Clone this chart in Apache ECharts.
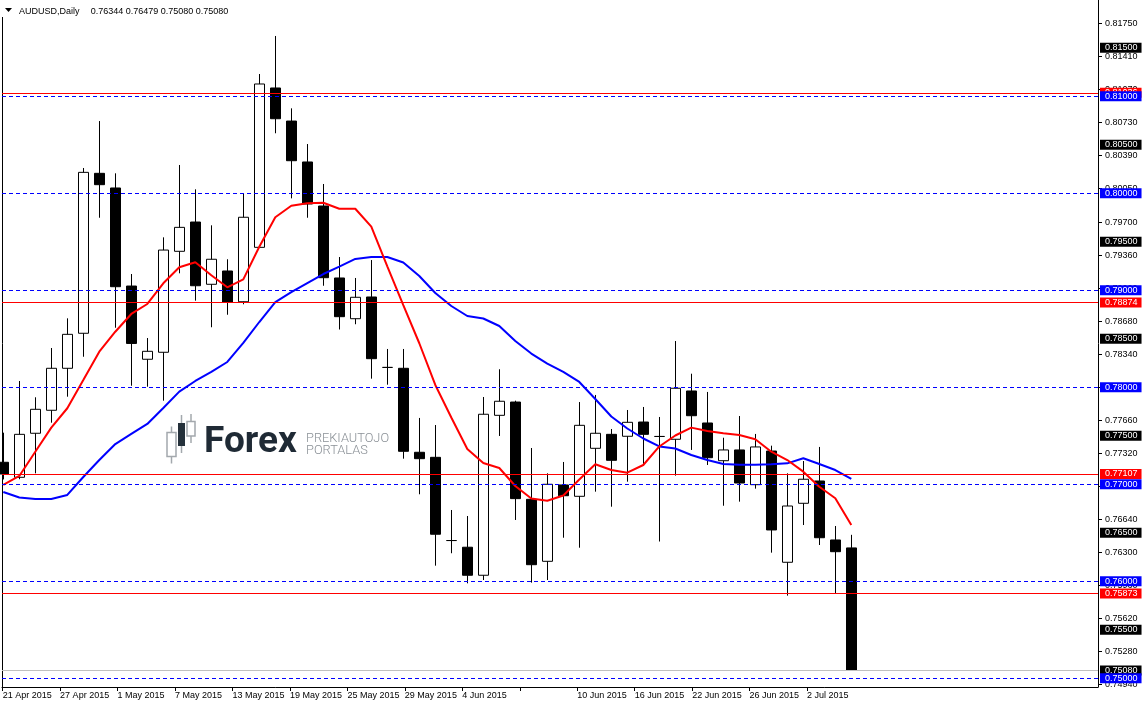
<!DOCTYPE html>
<html><head><meta charset="utf-8">
<script src="https://cdn.jsdelivr.net/npm/echarts@6/dist/echarts.min.js"></script>
<style>html,body{margin:0;padding:0;background:#fff}#c{width:1142px;height:705px}</style>
</head><body><div id="c"></div>
<script>
// ---- data ----
const symbolName = 'AUDUSD';
const timeframe = 'Daily';
const open  = [0.77227,0.77072,0.77526,0.77763,0.78196,0.78557,0.80206,0.80055,0.79044,0.78289,
               0.78361,0.79402,0.79704,0.79062,0.79199,0.78882,0.79443,0.81086,0.80745,0.80323,
               0.79869,0.79127,0.78707,0.78931,0.78205,0.78196,0.77330,0.77278,0.76420,0.76351,
               0.76062,0.77711,0.77848,0.76845,0.76206,0.76993,0.76876,0.77371,0.77515,0.77495,
               0.77642,0.77493,0.77464,0.77962,0.77632,0.77243,0.77354,0.76996,0.77343,0.76196,
               0.76804,0.77034,0.76426,0.76344];
const close = [0.77106,0.77515,0.77773,0.78196,0.78546,0.80216,0.80089,0.79037,0.78452,0.78371,
               0.79415,0.79649,0.79047,0.79320,0.78879,0.79753,0.81127,0.80769,0.80336,0.79890,
               0.79130,0.78728,0.78928,0.78295,0.78205,0.77340,0.77264,0.76485,0.76420,0.76062,
               0.77722,0.77856,0.76852,0.76171,0.77000,0.76882,0.77608,0.77526,0.77247,0.77639,
               0.77515,0.77493,0.77990,0.77707,0.77274,0.77354,0.77013,0.77385,0.76529,0.76776,
               0.77052,0.76449,0.76305,0.75080];
const low   = [0.77050,0.77052,0.77113,0.77635,0.77903,0.78315,0.79748,0.78614,0.78016,0.78006,
               0.77862,0.79175,0.78893,0.78619,0.78748,0.78856,0.79443,0.80619,0.79948,0.79748,
               0.79047,0.78596,0.78650,0.78089,0.78027,0.77264,0.76897,0.76161,0.76289,0.75979,
               0.76013,0.77498,0.76632,0.75986,0.76013,0.76449,0.76346,0.76924,0.76769,0.77027,
               0.77192,0.76410,0.77089,0.77354,0.77199,0.76779,0.76821,0.76955,0.76295,0.75852,
               0.76580,0.76374,0.75876,0.75080];
const high  = [0.77532,0.78065,0.77897,0.78405,0.78711,0.80261,0.80745,0.80206,0.79168,0.78508,
               0.79546,0.80292,0.80041,0.79670,0.79320,0.80000,0.81230,0.81622,0.80876,0.80508,
               0.80096,0.79343,0.79127,0.79312,0.78395,0.78395,0.77684,0.77611,0.76735,0.76673,
               0.77900,0.78186,0.77862,0.77374,0.77113,0.77230,0.77848,0.77921,0.77570,0.77766,
               0.77797,0.77694,0.78477,0.78140,0.77952,0.77480,0.77704,0.77519,0.77398,0.77113,
               0.77240,0.77385,0.76570,0.76479];
const maFast = [0.76993,0.77086,0.77336,0.77584,0.77784,0.78075,0.78367,0.78573,0.78756,0.78859,
                0.79072,0.79237,0.79289,0.79155,0.79031,0.79113,0.79449,0.79753,0.79872,0.79897,
                0.79903,0.79841,0.79841,0.79656,0.79247,0.78848,0.78454,0.78024,0.77689,0.77364,
                0.77220,0.77168,0.76982,0.76854,0.76831,0.76885,0.77050,0.77206,0.77147,0.77120,
                0.77199,0.77390,0.77503,0.77584,0.77550,0.77526,0.77508,0.77464,0.77336,0.77250,
                0.77130,0.76975,0.76856,0.76580];
const maSlow = [0.76921,0.76864,0.76848,0.76848,0.76890,0.77075,0.77250,0.77415,0.77519,0.77622,
                0.77787,0.77955,0.78065,0.78158,0.78261,0.78457,0.78673,0.78879,0.78982,0.79075,
                0.79168,0.79245,0.79323,0.79343,0.79343,0.79287,0.79147,0.78972,0.78838,0.78735,
                0.78709,0.78632,0.78477,0.78348,0.78245,0.78158,0.78055,0.77879,0.77699,0.77575,
                0.77472,0.77390,0.77369,0.77302,0.77250,0.77209,0.77202,0.77202,0.77206,0.77216,
                0.77268,0.77209,0.77147,0.77055];
const priceTicks = [0.8175,0.8141,0.8107,0.8073,0.8039,0.8005,0.7970,0.7936,0.7902,0.7868,0.7834,
                    0.7800,0.7766,0.7732,0.7698,0.7664,0.7630,0.7596,0.7562,0.7528,0.7494];
const dateLabels = ['21 Apr 2015','27 Apr 2015','1 May 2015','7 May 2015','13 May 2015','19 May 2015',
                    '25 May 2015','29 May 2015','4 Jun 2015','','10 Jun 2015','16 Jun 2015',
                    '22 Jun 2015','26 Jun 2015','2 Jul 2015'];
const roundLevels = [0.81,0.80,0.79,0.78,0.77,0.76,0.75];       // blue dashed
const halfLevels  = [0.815,0.805,0.795,0.785,0.775,0.765,0.755]; // black tags
const redLevels   = [0.81036,0.78874,0.77107,0.75873];          // red solid

// ---- layout ----
const FONT = 'Liberation Sans';
const N = open.length;
const X_MIN = -0.081, X_MAX = 68.419;
const Y_MIN = 0.7491, Y_MAX = 0.81993;
const tickStart = -0.04, tickStep = 3.591;
const dateTickPos = dateLabels.map((_, k) => +(tickStart + k * tickStep).toFixed(4));
const last = N - 1;

const candleData = open.map((o, i) => [i, o, close[i], low[i], high[i]]);
const tagLabel = (bg) => ({
  show: true, position: 'end', distance: 2, color: '#fff', backgroundColor: bg,
  fontFamily: FONT, fontSize: 9, lineHeight: 9, padding: [1, 4, 0, 5],
  formatter: p => Number(p.value).toFixed(5)
});
const markData = [];
halfLevels.forEach(v => markData.push({yAxis: v, lineStyle: {width: 0, color: 'rgba(0,0,0,0)'}, label: tagLabel('#000')}));
markData.push({yAxis: close[last], lineStyle: {width: 1, color: '#c0c0c0', type: 'solid'}, label: tagLabel('#000')});
redLevels.forEach(v => markData.push({yAxis: v, lineStyle: {width: 1, color: '#ff0000', type: 'solid'}, label: tagLabel('#ff0000')}));
roundLevels.forEach(v => markData.push({yAxis: v, lineStyle: {width: 1, color: '#0000ff', type: [4, 3]}, label: tagLabel('#0000ff')}));

const headerVals = [open[last], high[last], low[last], close[last]].map(v => v.toFixed(5)).join(' ');

const chart = echarts.init(document.getElementById('c'), null, {renderer: 'canvas'});
chart.setOption({
  animation: false,
  backgroundColor: '#fff',
  grid: {left: 2, right: 44, top: 0, bottom: 18, containLabel: false, outerBoundsMode: 'none'},
  xAxis: [{
    type: 'value', min: X_MIN, max: X_MAX, position: 'bottom',
    splitLine: {show: false},
    axisLine: {show: true, onZero: false, lineStyle: {color: '#000', width: 1}},
    axisTick: {show: true, customValues: dateTickPos, length: 4, lineStyle: {color: '#000'}},
    axisLabel: {
      customValues: dateTickPos, align: 'left', margin: 4, color: '#000',
      fontFamily: FONT, fontSize: 9,
      formatter: v => dateLabels[Math.round((v - tickStart) / tickStep)] || ''
    }
  }],
  yAxis: [{
    type: 'value', position: 'right', min: Y_MIN, max: Y_MAX,
    splitLine: {show: false},
    axisLine: {show: true, onZero: false, lineStyle: {color: '#000', width: 1}},
    axisTick: {show: true, customValues: priceTicks, length: 4, lineStyle: {color: '#000'}},
    axisLabel: {customValues: priceTicks, margin: 7, color: '#000', fontFamily: FONT, fontSize: 9,
      formatter: v => Number(v).toFixed(5)}
  }, {
    type: 'value', position: 'left', min: Y_MIN, max: Y_MAX,
    splitLine: {show: false}, axisTick: {show: false}, axisLabel: {show: false},
    axisLine: {show: true, onZero: false, lineStyle: {color: '#000', width: 1}}
  }],
  series: [{
    type: 'candlestick', name: symbolName, data: candleData, barWidth: 10, z: 2, silent: true,
    itemStyle: {color: '#ffffff', color0: '#000000', borderColor: '#000000', borderColor0: '#000000', borderWidth: 1}
  }, {
    type: 'line', name: 'MA slow', data: maSlow.map((v, i) => [i, v]), symbol: 'none', z: 3, silent: true,
    lineStyle: {color: '#0000ff', width: 2}, itemStyle: {color: '#0000ff'}
  }, {
    type: 'line', name: 'MA fast', data: maFast.map((v, i) => [i, v]), symbol: 'none', z: 3, silent: true,
    lineStyle: {color: '#ff0000', width: 2}, itemStyle: {color: '#ff0000'}
  }, {
    type: 'line', name: 'levels', data: [], z: 4, silent: true,
    markLine: {symbol: ['none', 'none'], silent: true, animation: false, precision: 5, data: markData}
  }],
  graphic: [
    {type: 'rect', z: 100, shape: {x: 0, y: 0, width: 240, height: 17}, style: {fill: '#fff'}},
    {type: 'polygon', z: 101, shape: {points: [[5, 8], [12, 8], [8.5, 12]]}, style: {fill: '#000'}},
    {type: 'text', z: 101, x: 19, y: 12, style: {text: symbolName + ',' + timeframe, font: '9px "Liberation Sans"', fill: '#000', verticalAlign: 'middle'}},
    {type: 'text', z: 101, x: 90.7, y: 12, style: {text: headerVals, font: '9px "Liberation Sans"', fill: '#000', verticalAlign: 'middle'}},
    // watermark logo
    {type: 'group', z: 1, silent: true, children: [
      {type: 'line', shape: {x1: 171.5, y1: 426.5, x2: 171.5, y2: 463.5}, style: {stroke: '#a3a8ad', lineWidth: 1.5}},
      {type: 'rect', shape: {x: 167, y: 432.5, width: 9, height: 24}, style: {fill: '#fff', stroke: '#a3a8ad', lineWidth: 1.5}},
      {type: 'line', shape: {x1: 181.5, y1: 415, x2: 181.5, y2: 453}, style: {stroke: '#a3a8ad', lineWidth: 1.5}},
      {type: 'rect', shape: {x: 178, y: 423, width: 7, height: 23}, style: {fill: '#25313b'}},
      {type: 'line', shape: {x1: 191, y1: 414, x2: 191, y2: 443}, style: {stroke: '#a3a8ad', lineWidth: 1.5}},
      {type: 'rect', shape: {x: 187, y: 421.5, width: 8, height: 14.5}, style: {fill: '#fff', stroke: '#a3a8ad', lineWidth: 1.5}},
      {type: 'text', x: 204, y: 443, style: {text: 'Forex', font: 'bold 37px Roboto', fill: '#1f2a35', verticalAlign: 'middle'}},
      {type: 'text', x: 306, y: 438.5, style: {text: 'PREKIAUTOJO', font: '300 12.8px Roboto', fill: '#8a9096', verticalAlign: 'middle'}},
      {type: 'text', x: 306, y: 450.5, style: {text: 'PORTALAS', font: '300 12.8px Roboto', fill: '#8a9096', verticalAlign: 'middle'}}
    ]}
  ]
});
</script>
</body></html>
